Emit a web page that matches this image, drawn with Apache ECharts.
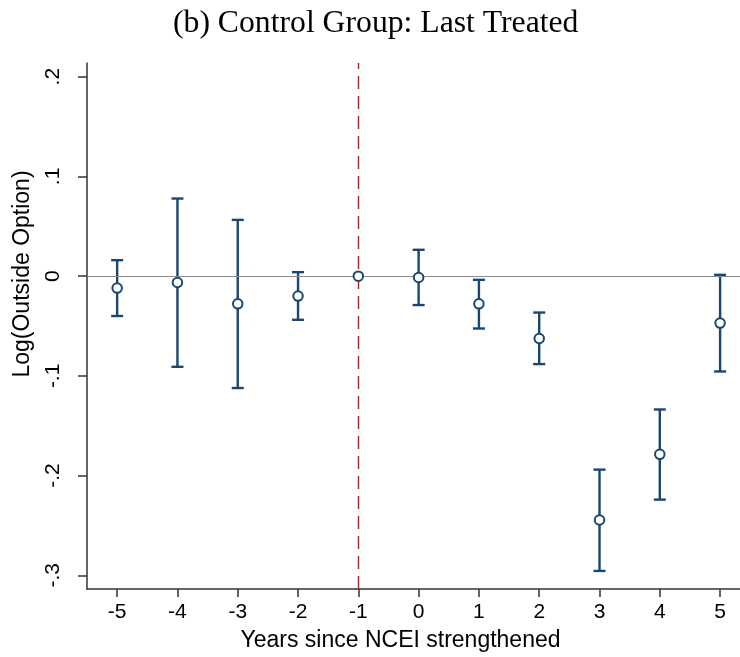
<!DOCTYPE html>
<html><head><meta charset="utf-8">
<script src="https://cdn.jsdelivr.net/npm/echarts@6/dist/echarts.min.js"></script>
<style>html,body{margin:0;padding:0;background:#fff}#c{width:740px;height:657px}</style>
</head><body><div id="c"></div>
<script>
var years = [-5, -4, -3, -2, -1, 0, 1, 2, 3, 4, 5];
var coef  = [-0.012, -0.0064, -0.0278, -0.020, 0, -0.0014, -0.0278, -0.0625, -0.2445, -0.1787, -0.0471];
var lower = [-0.040, -0.0909, -0.1122, -0.0438, 0, -0.029, -0.0525, -0.0882, -0.2956, -0.2241, -0.0956];
var upper = [0.016, 0.0778, 0.0564, 0.004, 0, 0.0264, -0.0037, -0.0365, -0.194, -0.1337, 0.0013];
var yTicks = [-0.3, -0.2, -0.1, 0, 0.1, 0.2];
var xTicks = years;

var navy = '#1a476f';
var chart = echarts.init(document.getElementById('c'));
function fmtY(v){ if (Math.abs(v) < 1e-9) return '0'; var s = Math.abs(v).toFixed(1).replace(/^0/, ''); return (v < 0 ? '-' : '') + s; }

var barData = years.map(function(x, i){ return [x, lower[i], upper[i]]; });
var ptData = years.map(function(x, i){ return [x, coef[i]]; });

chart.setOption({
  animation: false,
  title: { text: '(b) Control Group: Last Treated', left: 168, top: 3,
    textStyle: { fontFamily: 'Liberation Serif', fontWeight: 'normal', fontSize: 31.7, color: '#000' } },
  grid: { left: 87, right: 0, top: 63, bottom: 68, containLabel: false },
  xAxis: {
    type: 'value', min: -5.5, max: 5.33,
    name: 'Years since NCEI strengthened', nameLocation: 'middle', nameGap: 40,
    nameTextStyle: { fontFamily: 'Liberation Sans', fontSize: 23, color: '#000', padding: [0, 26, 0, 0] },
    axisLine: { onZero: false, lineStyle: { color: '#333', width: 1.5 } },
    axisTick: { show: true, length: 8, customValues: xTicks, lineStyle: { color: '#333', width: 1.5 } },
    axisLabel: { customValues: xTicks, fontFamily: 'Liberation Sans', fontSize: 21, color: '#000', margin: 13 },
    splitLine: { show: false }
  },
  yAxis: {
    type: 'value', min: -0.3137, max: 0.2137,
    name: 'Log(Outside Option)', nameLocation: 'middle', nameGap: 53, nameRotate: 90,
    nameTextStyle: { fontFamily: 'Liberation Sans', fontSize: 23, color: '#000', padding: [0, 0, 0, 104] },
    axisLine: { show: true, onZero: false, lineStyle: { color: '#333', width: 1.5 } },
    axisTick: { show: true, length: 9, customValues: yTicks, lineStyle: { color: '#333', width: 1.5 } },
    axisLabel: { customValues: yTicks, rotate: 90, formatter: fmtY, fontFamily: 'Liberation Sans', fontSize: 21, color: '#000', margin: 23 },
    splitLine: { show: false }
  },
  series: [
    {
      type: 'custom', z: 3,
      data: barData,
      renderItem: function(params, api){
        var x = api.value(0), lo = api.value(1), hi = api.value(2);
        if (lo === hi) return null;
        var pLo = api.coord([x, lo]), pHi = api.coord([x, hi]);
        var hw = 6;
        var st = { stroke: navy, lineWidth: 2.4 };
        return { type: 'group', children: [
          { type: 'line', shape: { x1: pLo[0], y1: pLo[1], x2: pHi[0], y2: pHi[1] }, style: st },
          { type: 'line', shape: { x1: pLo[0]-hw, y1: pLo[1], x2: pLo[0]+hw, y2: pLo[1] }, style: st },
          { type: 'line', shape: { x1: pHi[0]-hw, y1: pHi[1], x2: pHi[0]+hw, y2: pHi[1] }, style: st }
        ]};
      },
      markLine: {
        silent: true, symbol: 'none', label: { show: false },
        data: [
          { yAxis: 0, lineStyle: { color: '#8a8a8a', width: 1.2, type: 'solid' } },
          { xAxis: -1, lineStyle: { color: '#a3222e', width: 1.4, type: [13, 7] } }
        ]
      }
    },
    {
      type: 'scatter', z: 5, data: ptData,
      symbol: 'circle', symbolSize: 9.5,
      itemStyle: { color: '#fff', opacity: 1, borderColor: navy, borderWidth: 2 }
    }
  ]
});
</script></body></html>
